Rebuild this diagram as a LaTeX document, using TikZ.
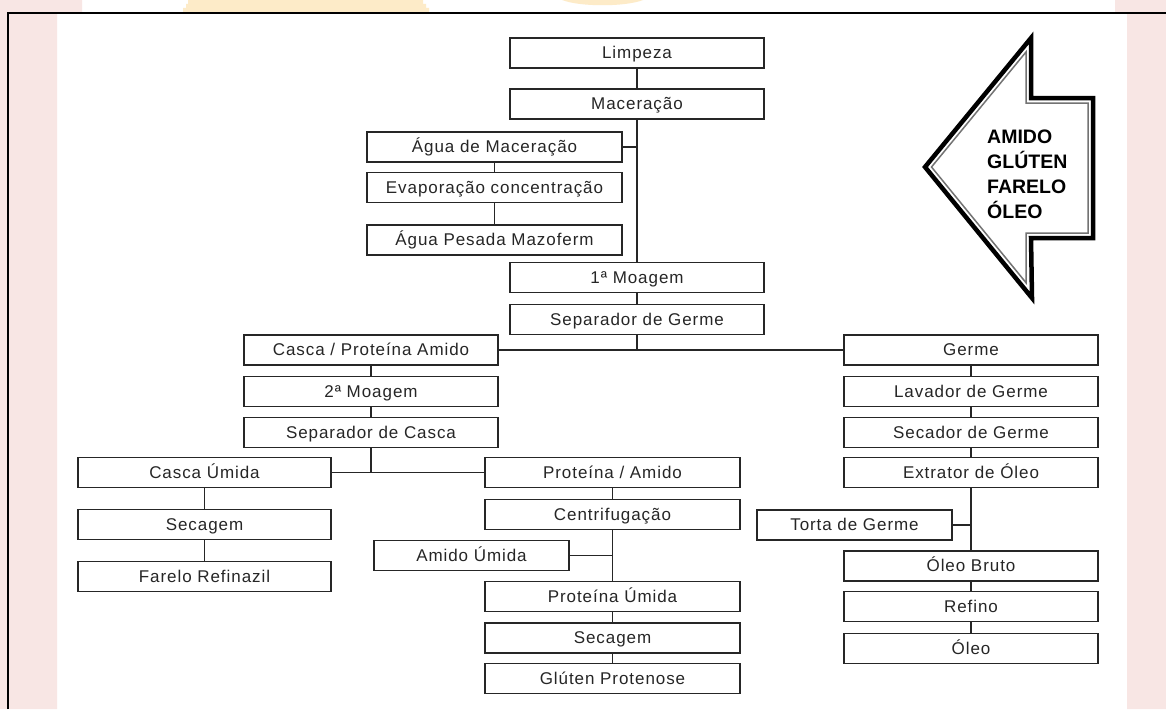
\documentclass[tikz,border=0pt]{standalone}
\usepackage{fontspec}
\usepackage{xcolor}
\usetikzlibrary{positioning,calc}
\newfontfamily\boxfont{Liberation Sans}[LetterSpace=5.5]
\newfontfamily\tagfont{Liberation Sans}
\definecolor{rosa}{HTML}{F8E6E4}
\definecolor{creme}{HTML}{FDEBC8}
\definecolor{tinta}{HTML}{262626}

\begin{document}
\begin{tikzpicture}[x=1pt,y=-1pt,
    block/.style={draw=black!85,line width=1.7pt,minimum width=254pt,minimum height=30pt,inner sep=0pt,
        text height=14pt,text depth=3pt,text=tinta,font=\boxfont\fontsize{17}{20}\selectfont},
    shortblock/.style={block,minimum width=195pt},
    link/.style={draw=black!85,line width=1.4pt}
]
\useasboundingbox (0,0) rectangle (1166,709);
\fill[white] (0,0) rectangle (1166,709);
\fill[rosa] (0,0) rectangle (57,709) (57,0) rectangle (82,13);
\fill[rosa] (1127,0) rectangle (1166,709) (1115,0) rectangle (1127,13);
\fill[creme] (183,13) -- (183,8) -- (186,8) -- (186,4) -- (188,4) -- (188,0) -- (423,0) -- (423,4) -- (426,4) -- (426,8) -- (429,8) -- (429,13) -- cycle;
\fill[creme] (562,0) .. controls (580,7) and (625,7) .. (643,0) -- cycle;
\draw[line width=2.5pt] (8,709) -- (8,13) -- (1166,13);

\node[block] (limpeza) at (637,53) {Limpeza};
\node[block] (macer) at (637,104) {Maceração};
\node[block,minimum width=255pt] (aguamac) at (494.5,147) {Água de Maceração};
\node[block,minimum width=255pt] (evap) at (494.5,187.5) {Evaporação concentração};
\node[block,minimum width=255pt] (aguapes) at (494.5,240) {Água Pesada Mazoferm};
\node[block] (moag1) at (637,277.5) {1ª Moagem};
\node[block] (sepgerme) at (637,319.5) {Separador de Germe};

\node[block] (cascaprot) at (371,350) {Casca / Proteína Amido};
\node[block] (moag2) at (371,391.5) {2ª Moagem};
\node[block] (sepcasca) at (371,432.5) {Separador de Casca};

\node[block,minimum width=253pt] (cascaum) at (204.5,472.5) {Casca Úmida};
\node[block,minimum width=253pt] (secag1) at (204.5,524.5) {Secagem};
\node[block,minimum width=253pt] (farelo) at (204.5,576.5) {Farelo Refinazil};

\node[block,minimum width=255pt] (protam) at (612.5,472.5) {Proteína / Amido};
\node[block,minimum width=255pt] (centr) at (612.5,514.5) {Centrifugação};
\node[shortblock] (amidoum) at (471.5,555.5) {Amido Úmida};
\node[block,minimum width=255pt] (protum) at (612.5,596.5) {Proteína Úmida};
\node[block,minimum width=255pt] (secag2) at (612.5,638) {Secagem};
\node[block,minimum width=255pt] (gluten) at (612.5,678.5) {Glúten Protenose};

\node[block] (germe) at (971,350) {Germe};
\node[block] (lavador) at (971,391.5) {Lavador de Germe};
\node[block] (secador) at (971,432.5) {Secador de Germe};
\node[block] (extrator) at (971,472.5) {Extrator de Óleo};
\node[shortblock] (torta) at (854.5,525) {Torta de Germe};
\node[block] (oleobr) at (971,566) {Óleo Bruto};
\node[block] (refino) at (971,606.5) {Refino};
\node[block] (oleo) at (971,648.5) {Óleo};

\draw[link] (limpeza) -- (macer);
\draw[link] (macer) -- (moag1);
\draw[link] (aguamac.east) -- (aguamac.east -| macer.south);
\draw[link] (aguamac) -- (evap);
\draw[link] (evap) -- (aguapes);
\draw[link] (moag1) -- (sepgerme);
\draw[link] (sepgerme.south) -- (sepgerme.south |- cascaprot.east);
\draw[link] (cascaprot.east) -- (germe.west);
\draw[link] (cascaprot) -- (moag2);
\draw[link] (moag2) -- (sepcasca);
\draw[link] (sepcasca.south) -- (sepcasca.south |- cascaum.east);
\draw[link] (cascaum.east) -- (protam.west);
\draw[link] (cascaum) -- (secag1);
\draw[link] (secag1) -- (farelo);
\draw[link] (protam) -- (centr);
\draw[link] (centr) -- (protum);
\draw[link] (amidoum.east) -- (amidoum.east -| centr.south);
\draw[link] (protum) -- (secag2);
\draw[link] (secag2) -- (gluten);
\draw[link] (germe) -- (lavador);
\draw[link] (lavador) -- (secador);
\draw[link] (secador) -- (extrator);
\draw[link] (extrator) -- (oleobr);
\draw[link] (torta.east) -- (torta.east -| extrator.south);
\draw[link] (oleobr) -- (refino);
\draw[link] (refino) -- (oleo);

\draw[line width=4.5pt,line join=miter] (925,167) -- (1031,38) -- (1031,98) -- (1093,98) -- (1093,238) -- (1031,238) -- (1032,298) -- cycle;
\draw[black!55,line width=1.5pt,line join=miter] (931.5,167) -- (1026,52) -- (1026,103) -- (1088,103) -- (1088,233) -- (1026,233) -- (1026,282.7) -- cycle;
\node[anchor=north west,inner sep=0pt,align=left,text=black,font=\tagfont\bfseries\fontsize{19.5}{25}\selectfont] (produtos) at (987,130) {AMIDO\\GLÚTEN\\FARELO\\ÓLEO};
\end{tikzpicture}
\end{document}
